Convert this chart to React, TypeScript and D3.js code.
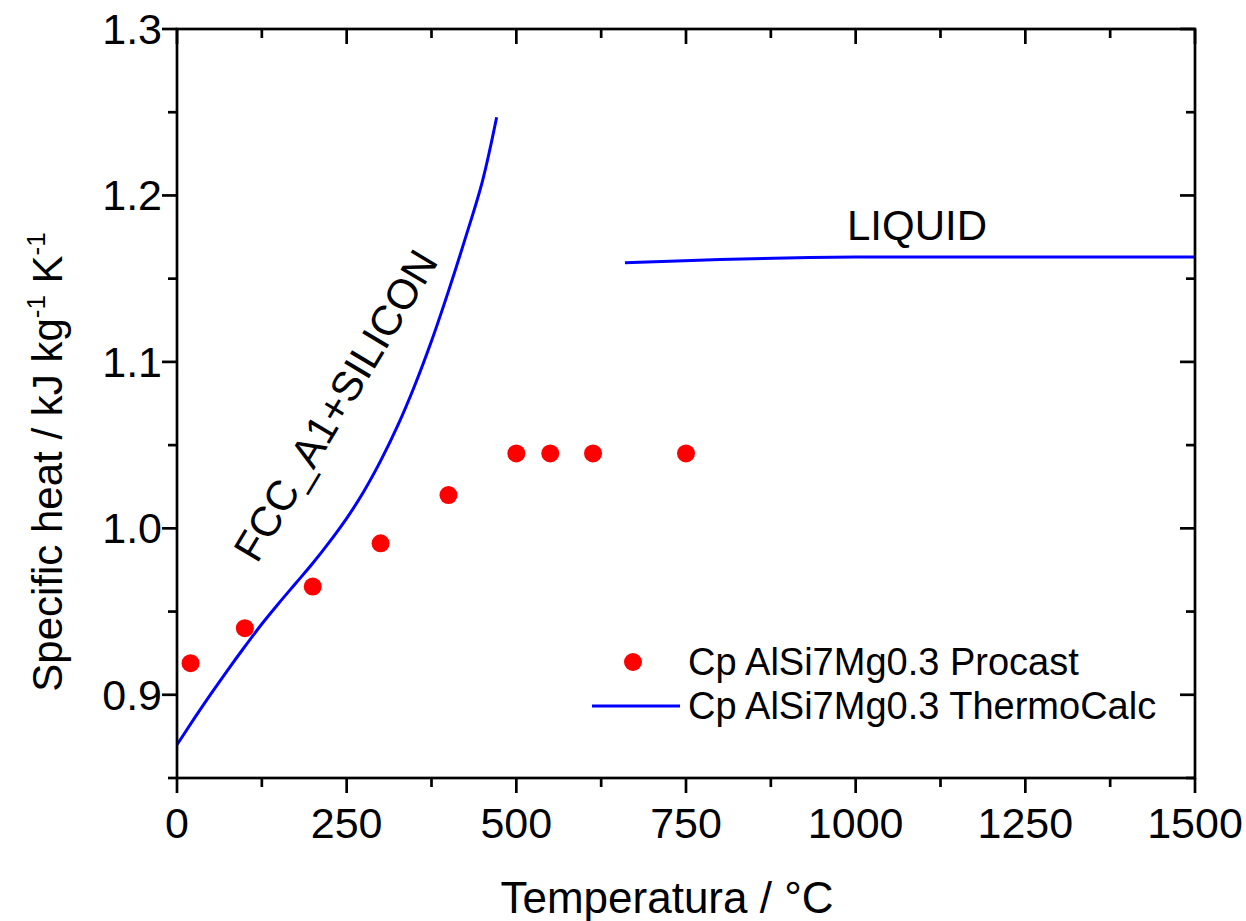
import React from "react";
import * as d3 from "d3";

// Procast data points
const procastT = [20, 100, 200, 300, 400, 500, 550, 613, 750];
const procastCp = [0.919, 0.940, 0.965, 0.991, 1.020, 1.045, 1.045, 1.045, 1.045];

// ThermoCalc solid (FCC_A1+SILICON) curve
const solidT = [0, 25, 50, 75, 100, 125, 150, 175, 200, 225, 250, 275, 300, 325, 350, 375, 400, 425, 450, 471];
const solidCp = [0.870, 0.8855, 0.9005, 0.915, 0.929, 0.9425, 0.955, 0.967, 0.979, 0.992, 1.006, 1.022, 1.0405, 1.0615, 1.0855, 1.1125, 1.1425, 1.1745, 1.2085, 1.247];

// ThermoCalc liquid curve
const liquidT = [660, 800, 1000, 1250, 1500];
const liquidCp = [1.1595, 1.1615, 1.163, 1.163, 1.163];

const xMajor = [0, 250, 500, 750, 1000, 1250, 1500];
const xMinor = [125, 375, 625, 875, 1125, 1375];
const yMajor = [0.9, 1.0, 1.1, 1.2, 1.3];
const yMinor = [0.85, 0.95, 1.05, 1.15, 1.25];

const legendLabels = ["Cp AlSi7Mg0.3 Procast", "Cp AlSi7Mg0.3 ThermoCalc"];

const FONT = "'Liberation Sans', Arial, sans-serif";

export default function App() {
  const W = 1246, H = 921;
  const x = d3.scaleLinear().domain([0, 1500]).range([177, 1195]);
  const y = d3.scaleLinear().domain([0.85, 1.3]).range([778, 29]);
  const line = d3
    .line<[number, number]>()
    .x((d) => x(d[0]))
    .y((d) => y(d[1]))
    .curve(d3.curveCatmullRom.alpha(0.5));
  const solid = solidT.map((t, i) => [t, solidCp[i]] as [number, number]);
  const liquid = liquidT.map((t, i) => [t, liquidCp[i]] as [number, number]);
  const fmt = d3.format(".1f");
  const x0 = x(0), x1 = x(1500), y0 = y(0.85), y1 = y(1.3);
  const axisW = 2.7;
  const maj = 15, mnr = 9;

  return (
    <svg width={W} height={H} style={{ position: "absolute", left: 0, top: 0, background: "#fff" }} fontFamily={FONT}>
      <rect x={0} y={0} width={W} height={H} fill="#fff" />
      {/* data */}
      <path d={line(solid) || ""} fill="none" stroke="#0000ff" strokeWidth={3} />
      <path d={line(liquid) || ""} fill="none" stroke="#0000ff" strokeWidth={3} />
      {procastT.map((t, i) => (
        <circle key={i} cx={x(t)} cy={y(procastCp[i])} r={9} fill="#ff0000" />
      ))}
      {/* frame */}
      <g stroke="#000" strokeWidth={axisW} fill="none">
        <rect x={x0} y={y1} width={x1 - x0} height={y0 - y1} />
        {xMajor.map((v) => (
          <g key={"xM" + v}>
            <line x1={x(v)} x2={x(v)} y1={y0} y2={y0 + maj} />
            <line x1={x(v)} x2={x(v)} y1={y1} y2={y1 + maj} />
          </g>
        ))}
        {xMinor.map((v) => (
          <g key={"xm" + v}>
            <line x1={x(v)} x2={x(v)} y1={y0} y2={y0 + mnr} />
            <line x1={x(v)} x2={x(v)} y1={y1} y2={y1 + mnr} />
          </g>
        ))}
        {yMajor.map((v) => (
          <g key={"yM" + v}>
            <line x1={x0 - maj} x2={x0} y1={y(v)} y2={y(v)} />
            <line x1={x1 - maj} x2={x1} y1={y(v)} y2={y(v)} />
          </g>
        ))}
        {yMinor.map((v) => (
          <g key={"ym" + v}>
            <line x1={x0 - mnr} x2={x0} y1={y(v)} y2={y(v)} />
            <line x1={x1 - mnr} x2={x1} y1={y(v)} y2={y(v)} />
          </g>
        ))}
      </g>
      {/* tick labels */}
      <g fontSize={43} fill="#000">
        {xMajor.map((v) => (
          <text key={"xl" + v} x={x(v)} y={838} textAnchor="middle">{v}</text>
        ))}
        {yMajor.map((v) => (
          <text key={"yl" + v} x={x0 - 15} y={y(v) + 15} textAnchor="end">{fmt(v)}</text>
        ))}
      </g>
      {/* axis titles */}
      <text x={667} y={913} textAnchor="middle" fontSize={44}>Temperatura / °C</text>
      <text transform="translate(62,462) rotate(-90)" textAnchor="middle" fontSize={42}>
        Specific heat / kJ kg<tspan fontSize={26} dy={-17}>-1</tspan>
        <tspan dy={17}> K</tspan>
        <tspan fontSize={26} dy={-17}>-1</tspan>
      </text>
      {/* annotations */}
      <text x={917} y={240} textAnchor="middle" fontSize={42}>LIQUID</text>
      <text transform="translate(348,413) rotate(-59)" textAnchor="middle" fontSize={42}>FCC_A1+SILICON</text>
      {/* legend */}
      <circle cx={633} cy={662} r={9} fill="#ff0000" />
      <line x1={592} x2={680} y1={706} y2={706} stroke="#0000ff" strokeWidth={3} />
      <text x={688} y={675} fontSize={38}>{legendLabels[0]}</text>
      <text x={688} y={719} fontSize={38}>{legendLabels[1]}</text>
    </svg>
  );
}
